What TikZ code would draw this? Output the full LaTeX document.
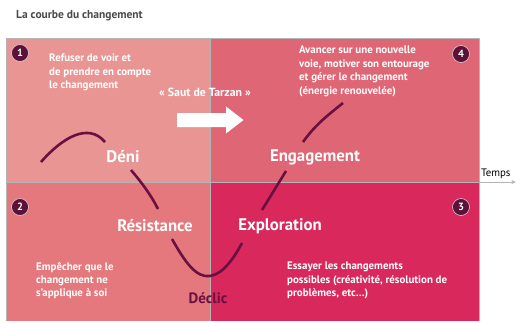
\documentclass[tikz,border=0pt]{standalone}
\usepackage{fontspec}
\setmainfont{PT Sans}
\usetikzlibrary{arrows.meta}
\definecolor{qa}{HTML}{E99594}
\definecolor{qb}{HTML}{DF6675}
\definecolor{qc}{HTML}{E4787D}
\definecolor{qd}{HTML}{D8285C}
\definecolor{dark}{HTML}{6A1040}
\definecolor{circ}{HTML}{5C1236}
\definecolor{titlec}{HTML}{4A4A4A}
\definecolor{gridc}{HTML}{B4B4B4}
\tikzset{
  curve/.style={draw=dark,line width=2.6pt},
  body/.style={text=white,font=\bfseries\fontsize{10.9}{13.4}\selectfont,align=left,inner sep=0pt},
  big/.style={text=white,font=\bfseries\fontsize{16.8}{18}\selectfont,inner sep=0pt},
  num/.style={circle,fill=circ,draw=white!80!circ,line width=0.6pt,minimum size=17pt,inner sep=0pt,text=white,font=\bfseries\fontsize{10.5}{11}\selectfont}
}
\begin{document}
\begin{tikzpicture}[x=1pt,y=-1pt]
\useasboundingbox (0,0) rectangle (516,322);
\fill[white] (0,0) rectangle (516,322);
% quadrants
\fill[qa] (6,38) rectangle (210,182);
\fill[qb] (210,38) rectangle (479,182);
\fill[qc] (6,182) rectangle (210,321);
\fill[qd] (210,182) rectangle (479,321);
\draw[gridc,line width=0.8pt] (6,321) -- (6,38) -- (479,38) -- (479,321);
\draw[gridc,line width=0.6pt] (210,38) -- (210,321);
\draw[gridc,line width=0.6pt] (6,182) -- (479,182);
\coordinate (axs) at (479,182);
\coordinate (axe) at (515.5,182);
\draw[gridc,line width=0.8pt,-{Stealth[length=4pt,width=4pt]}] (axs) -- (axe);
\node[anchor=base west,font=\fontsize{10.8}{12}\selectfont,inner sep=0pt] (temps) at (481,176) {Temps};
% title
\node[anchor=base west,text=titlec,font=\bfseries\fontsize{11.5}{13}\selectfont,inner sep=0pt] (title) at (16,18) {La courbe du changement};
% numbers
\node[num] (n1) at (20,53) {1};
\node[num] (n4) at (461,54) {4};
\node[num] (n2) at (20,207) {2};
\node[num] (n3) at (461,207) {3};
% texts
\node[body,anchor=north west] (t1) at (49,54) {Refuser de voir et\\de prendre en compte\\le changement};
\node[body,anchor=north west] (t4) at (299,46) {Avancer sur une nouvelle\\voie, motiver son entourage\\et gérer le changement\\(énergie renouvelée)};
\node[body,anchor=north west] (t2) at (36,262) {Empêcher que le\\changement ne\\s’applique à soi};
\node[body,anchor=north west] (t3) at (287,262) {Essayer les changements\\possibles (créativité, résolution de\\problèmes, etc…)};
\node[body,font=\bfseries\fontsize{11.8}{13}\selectfont] (saut) at (205,92) {« Saut de Tarzan »};
% arrow
\fill[white] (177,113) -- (226,113) -- (226,106.5) -- (243.5,120) -- (226,133.5) -- (226,127) -- (177,127) -- cycle;
% big labels
\node[big] (deni) at (123,157) {Déni};
\node[big] (eng) at (315,157) {Engagement};
\node[big] (res) at (155,226) {Résistance};
\node[big] (exp) at (280,226) {Exploration};
\node[text=dark,font=\bfseries\fontsize{15}{16}\selectfont,inner sep=0pt] (declic) at (208,298) {Déclic};
% curve
\draw[curve] (41,162) .. controls (62,138) and (88,122) .. (105,142);
\draw[curve] (131,170) .. controls (142,183) and (151,195) .. (158,209);
\draw[curve] (172,239) .. controls (185,262) and (196,278) .. (210,276) .. controls (224,274) and (235,256) .. (242,243);
\draw[curve] (262,210) -- (286,171);
\draw[curve] (303,142) .. controls (315,125) and (328,115) .. (343,103);
\end{tikzpicture}
\end{document}
